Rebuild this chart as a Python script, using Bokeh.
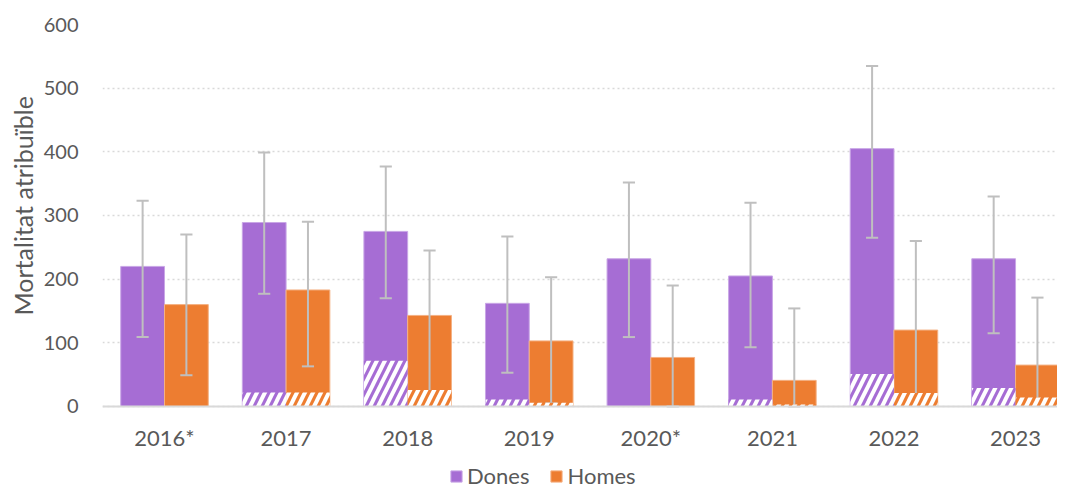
from bokeh.plotting import figure
from bokeh.models import ColumnDataSource, FixedTicker, Legend, LegendItem, Range1d, Title
from bokeh.embed import file_html
from bokeh.resources import INLINE

years = ["2016*", "2017", "2018", "2019", "2020*", "2021", "2022", "2023"]
dones = [220, 289, 275, 162, 232, 205, 405, 232]
homes = [160, 183, 143, 103, 77, 41, 120, 65]
dones_lo = [109, 177, 170, 53, 109, 93, 265, 115]
dones_hi = [323, 399, 377, 267, 352, 320, 535, 330]
homes_lo = [49, 63, 15, 5, 0, 0, 10, 10]
homes_hi = [270, 290, 245, 203, 190, 154, 260, 171]
dones_hatch = [0, 22, 72, 11, 0, 11, 51, 29]
homes_hatch = [0, 22, 26, 6, 0, 3, 21, 14]

PURPLE = "#A66DD4"
ORANGE = "#ED7D31"
GREY = "#BFBFBF"
TXT = "#595959"
FONT = "Lato"

idx = list(range(len(years)))
off = 0.18
bw = 0.36
cap = 0.05
xd = [i - off for i in idx]
xh = [i + off for i in idx]

src = ColumnDataSource(dict(
    xd=xd, xh=xh, dones=dones, homes=homes,
    dlo=dones_lo, dhi=dones_hi, hlo=homes_lo, hhi=homes_hi,
    dh=dones_hatch, hh=homes_hatch,
    xdl=[x - cap for x in xd], xdr=[x + cap for x in xd],
    xhl=[x - cap for x in xh], xhr=[x + cap for x in xh],
))

p = figure(width=1057, height=490, output_backend="svg", toolbar_location=None,
           x_range=Range1d(-0.51, 7.345), y_range=Range1d(-132, 600),
           min_border_left=102, min_border_right=0, min_border_top=24, min_border_bottom=0)
p.outline_line_color = None
p.background_fill_color = "white"

rd = p.vbar(x="xd", top="dones", width=bw, source=src, fill_color=PURPLE, line_color="#C9A6E6", line_width=1)
rh = p.vbar(x="xh", top="homes", width=bw, source=src, fill_color=ORANGE, line_color="#F4B183", line_width=1)

# error bars
for x, xl, xr, lo, hi in [("xd", "xdl", "xdr", "dlo", "dhi"), ("xh", "xhl", "xhr", "hlo", "hhi")]:
    p.segment(x0=x, x1=x, y0=lo, y1=hi, source=src, line_color=GREY, line_width=2)
    p.segment(x0=xl, x1=xr, y0=lo, y1=lo, source=src, line_color=GREY, line_width=2)
    p.segment(x0=xl, x1=xr, y0=hi, y1=hi, source=src, line_color=GREY, line_width=2)

# hatched portions
p.vbar(x="xd", top="dh", width=bw, source=src, fill_color=PURPLE, line_color=None,
       hatch_pattern="/", hatch_color="white", hatch_scale=16, hatch_weight=4)
p.vbar(x="xh", top="hh", width=bw, source=src, fill_color=ORANGE, line_color=None,
       hatch_pattern="/", hatch_color="white", hatch_scale=16, hatch_weight=4)

# axes
p.xaxis.fixed_location = 0
p.xaxis.ticker = FixedTicker(ticks=idx)
p.xaxis.major_label_overrides = {i: y for i, y in enumerate(years)}
p.xaxis.major_tick_line_color = None
p.xaxis.minor_tick_line_color = None
p.xaxis.axis_line_color = "#D9D9D9"
p.xaxis.axis_line_width = 2
p.xaxis.major_label_text_font = FONT
p.xaxis.major_label_text_font_size = "22px"
p.xaxis.major_label_text_color = TXT
p.xaxis.major_label_standoff = 12

p.yaxis.ticker = FixedTicker(ticks=[0, 100, 200, 300, 400, 500, 600])
p.yaxis.major_tick_line_color = None
p.yaxis.minor_tick_line_color = None
p.yaxis.axis_line_color = None
p.yaxis.major_label_text_font = FONT
p.yaxis.major_label_text_font_size = "20px"
p.yaxis.major_label_text_color = TXT
p.yaxis.major_label_standoff = 18

ytitle = Title(text="Mortalitat atribuïble", align="left", offset=175,
               text_font=FONT, text_font_size="25px", text_font_style="normal",
               text_color=TXT, standoff=6)
p.add_layout(ytitle, "left")

p.xgrid.grid_line_color = None
p.ygrid.grid_line_color = "#D9D9D9"
p.ygrid.grid_line_dash = "2 3"
p.ygrid.grid_line_width = 1.5

legend = Legend(items=[LegendItem(label="Dones", renderers=[rd]), LegendItem(label="Homes", renderers=[rh])],
                orientation="horizontal", location=(347, 1))
legend.label_text_font = FONT
legend.label_text_font_size = "22px"
legend.label_text_color = TXT
legend.glyph_width = 14
legend.glyph_height = 14
legend.spacing = 20
legend.label_standoff = 4
legend.border_line_color = None
legend.background_fill_alpha = 0
legend.margin = 0
legend.padding = 0
p.add_layout(legend, "center")

open("out.html", "w").write(file_html(p, INLINE))
